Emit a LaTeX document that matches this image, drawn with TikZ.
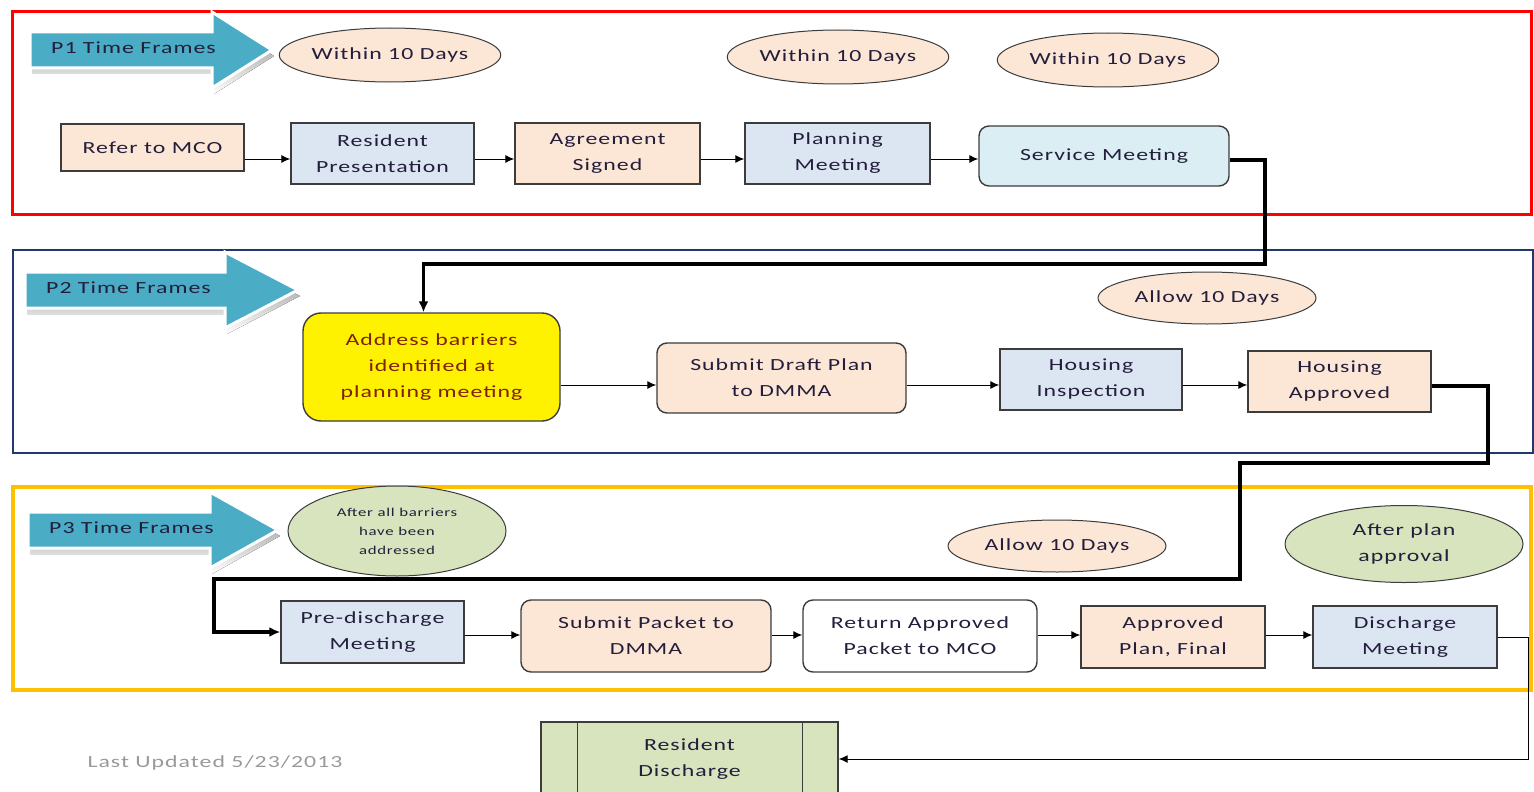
\documentclass[tikz,border=0pt]{standalone}
\usepackage{fontspec}
\setmainfont{Carlito}[FakeStretch=1.4,LetterSpace=6]
\usetikzlibrary{positioning,shapes.geometric,arrows.meta}

\definecolor{ink}{RGB}{35,30,60}
\definecolor{boxline}{RGB}{60,60,60}
\definecolor{peach}{RGB}{252,230,214}
\definecolor{paleblue}{RGB}{220,230,242}
\definecolor{paleteal}{RGB}{218,238,243}
\definecolor{sage}{RGB}{215,228,189}
\definecolor{teal}{RGB}{75,172,198}
\definecolor{shade}{RGB}{200,210,215}
\definecolor{navy}{RGB}{31,56,110}
\definecolor{gold}{RGB}{255,192,0}
\definecolor{rust}{RGB}{128,32,0}

\begin{document}
\begin{tikzpicture}[x=1pt,y=-1pt,
    every node/.style={font=\fontsize{17}{26}\selectfont,text=ink,align=center,inner sep=0pt},
    sqbox/.style={draw=boxline,line width=1.4pt,rectangle},
    rbox/.style={sqbox,rounded corners=10pt},
    tag/.style={ellipse,draw=boxline,line width=1pt},
    flow/.style={-{Latex[length=9pt,width=8pt]},line width=1pt},
    jump/.style={-{Latex[length=11pt,width=10pt]},line width=3.5pt}]
\useasboundingbox (0,0) rectangle (1534,792);

% phase panels
\draw[red,line width=3pt] (12,12) rectangle (1531,214);
\draw[navy,line width=2.5pt] (13,250) rectangle (1533,453);
\draw[gold,line width=4pt] (13,487) rectangle (1531,690);

% time frame arrows
\foreach \lx/\hx/\tx/\cy/\lab in {30/212/272/50/P1,25/225/298/290/P2,28/210/278/530/P3}{
  \fill[shade,shift={(2pt,-6pt)}] (\lx,\cy-18) -- (\hx,\cy-18) -- (\hx,\cy-38) -- (\tx,\cy)
      -- (\hx,\cy+38) -- (\hx,\cy+18) -- (\lx,\cy+18) -- cycle;
  \filldraw[fill=teal,draw=white,line width=3pt] (\lx,\cy-18) -- (\hx,\cy-18) -- (\hx,\cy-38) -- (\tx,\cy)
      -- (\hx,\cy+38) -- (\hx,\cy+18) -- (\lx,\cy+18) -- cycle;
  \node[anchor=west] (\lab) at (\lx+21,\cy-2) {\lab\ Time Frames};
}

% P1
\node[tag,fill=peach,minimum width=218pt,minimum height=54pt] (within1) at (390,55) {Within 10 Days};
\node[tag,fill=peach,minimum width=218pt,minimum height=54pt] (within2) at (838,57) {Within 10 Days};
\node[tag,fill=peach,minimum width=218pt,minimum height=54pt] (within3) at (1108,60) {Within 10 Days};

\node[sqbox,fill=peach,minimum width=183pt,minimum height=47pt] (refer) at (152.5,147.5) {Refer to MCO};
\node[sqbox,fill=paleblue,minimum width=183pt,minimum height=61pt] (resident) at (382.5,153.5) {Resident\\Presentation};
\node[sqbox,fill=peach,minimum width=185pt,minimum height=61pt] (agreed) at (607.5,153.5) {Agreement\\Signed};
\node[sqbox,fill=paleblue,minimum width=185pt,minimum height=61pt] (planning) at (837.5,153.5) {Planning\\Meeting};
\node[rbox,fill=paleteal,minimum width=250pt,minimum height=60pt] (service) at (1104,156) {Service Meeting};

% P2
\node[tag,fill=peach,minimum width=218pt,minimum height=52pt] (allow1) at (1207,298) {Allow 10 Days};
\node[rbox,rounded corners=18pt,fill=yellow,text=rust,minimum width=257pt,minimum height=108pt] (barriers) at (431.5,367) {Address barriers\\identified at\\planning meeting};
\node[rbox,fill=peach,minimum width=249pt,minimum height=70pt] (draft) at (781.5,378) {Submit Draft Plan\\to DMMA};
\node[sqbox,fill=paleblue,minimum width=182pt,minimum height=61pt] (inspect) at (1091,379.5) {Housing\\Inspection};
\node[sqbox,fill=peach,minimum width=183pt,minimum height=61pt] (approved) at (1339.5,381.5) {Housing\\Approved};

% P3
\node[tag,fill=sage,minimum width=218pt,minimum height=90pt,font=\fontsize{12}{19}\selectfont] (cleared) at (397,531) {After all barriers\\have been\\addressed};
\node[tag,fill=peach,minimum width=218pt,minimum height=52pt] (allow2) at (1057,546) {Allow 10 Days};
\node[tag,fill=sage,minimum width=238pt,minimum height=77pt] (planok) at (1404,544) {After plan\\approval};

\node[sqbox,fill=paleblue,minimum width=183pt,minimum height=62pt] (predis) at (372.5,632) {Pre-discharge\\Meeting};
\node[rbox,fill=peach,minimum width=250pt,minimum height=72pt] (packet) at (646,636) {Submit Packet to\\DMMA};
\node[rbox,fill=white,minimum width=234pt,minimum height=72pt] (returned) at (920,636) {Return Approved\\Packet to MCO};
\node[sqbox,fill=peach,minimum width=184pt,minimum height=62pt] (final) at (1173,637) {Approved\\Plan, Final};
\node[sqbox,fill=paleblue,minimum width=184pt,minimum height=62pt] (discharge) at (1405,637) {Discharge\\Meeting};

\node[sqbox,fill=sage,minimum width=297pt,minimum height=74pt] (leaving) at (689.5,759) {Resident\\Discharge};
\draw[boxline,line width=1.4pt] ([xshift=37pt]leaving.north west) -- ([xshift=37pt]leaving.south west)
  ([xshift=-36pt]leaving.north east) -- ([xshift=-36pt]leaving.south east);

\node[text=gray!80,font=\fontsize{17}{20}\selectfont] (updated) at (215,763) {Last Updated 5/23/2013};

% flow inside rows
\foreach \a/\b in {refer/resident,resident/agreed,agreed/planning,planning/service}
  \draw[flow] (\a.east |- 0,159) -- (\b.west |- 0,159);
\foreach \a/\b in {barriers/draft,draft/inspect,inspect/approved}
  \draw[flow] (\a.east |- 0,385) -- (\b.west |- 0,385);
\foreach \a/\b in {predis/packet,packet/returned,returned/final,final/discharge}
  \draw[flow] (\a.east |- 0,635) -- (\b.west |- 0,635);

% links between phases
\draw[jump] (service.east |- 0,160) -| (1265,264) -| ([xshift=-8pt]barriers.north);
\draw[jump] (approved.east |- 0,386) -| (1488,463) -| (1240,579) -- (214,579) |- (predis.west);
\draw[flow] (discharge.east) -| (1528,759) -- (leaving.east);
\end{tikzpicture}
\end{document}
